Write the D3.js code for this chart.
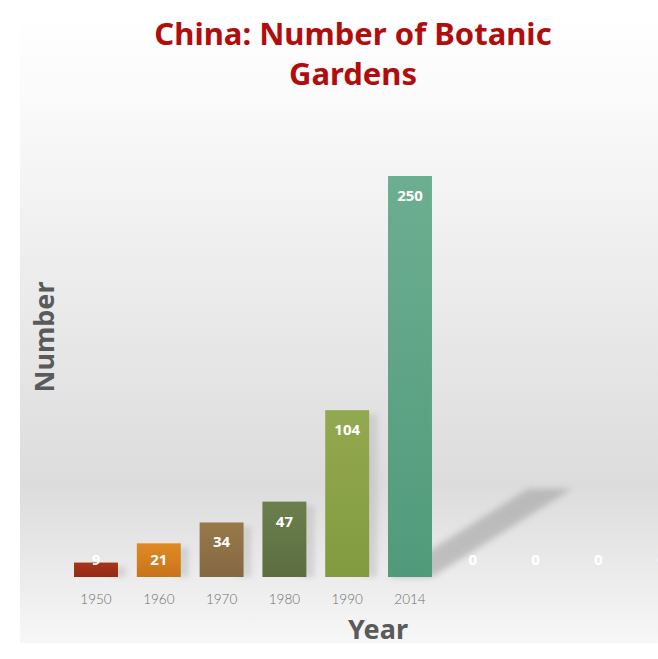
<!DOCTYPE html>
<html><head><meta charset="utf-8">
<script src="https://cdn.jsdelivr.net/npm/d3@7"></script>
<style>html,body{margin:0;padding:0;background:#fff;overflow:hidden}</style>
</head><body>
<svg id="c" width="658" height="659"></svg>
<script>
const categories = ["1950","1960","1970","1980","1990","2014","c7","c8","c9","c10"];
const tickLabels = ["1950","1960","1970","1980","1990","2014","","","",""];
const values = [9,21,34,47,104,250,0,0,0,0];
const barColors = [
  ["#a8341c","#932a12"],["#e08a24","#c9731a"],["#97794a","#846841"],
  ["#6b7f4d","#5c6e40"],["#93a94f","#819a40"],["#6caf90","#509a7a"],
  ["#999","#999"],["#999","#999"],["#999","#999"],["#999","#999"]];

const svg = d3.select("#c");
const defs = svg.append("defs");
const bg = defs.append("linearGradient").attr("id","bg").attr("x1",0).attr("y1",0).attr("x2",0).attr("y2",1);
bg.append("stop").attr("offset","0").attr("stop-color","#ffffff");
bg.append("stop").attr("offset","0.12").attr("stop-color","#fbfbfb");
bg.append("stop").attr("offset","0.75").attr("stop-color","#dcdcdc");
bg.append("stop").attr("offset","1").attr("stop-color","#f7f7f7");
svg.append("rect").attr("x",20).attr("y",13).attr("width",640).attr("height",630).attr("fill","url(#bg)");

const blur = defs.append("filter").attr("id","blur").attr("x","-20%").attr("y","-20%").attr("width","140%").attr("height","140%");
blur.append("feGaussianBlur").attr("stdDeviation",3);
const blur2 = defs.append("filter").attr("id","blur2").attr("x","-50%").attr("y","-50%").attr("width","200%").attr("height","200%");
blur2.append("feGaussianBlur").attr("stdDeviation",2.5);

barColors.forEach((c,i)=>{
  const g = defs.append("linearGradient").attr("id","g"+i).attr("x1",0).attr("y1",0).attr("x2",0).attr("y2",1);
  g.append("stop").attr("offset","0").attr("stop-color",c[0]);
  g.append("stop").attr("offset","1").attr("stop-color",c[1]);
});

const x = d3.scaleBand().domain(categories).range([64.6, 692.6]).paddingInner(0.3).paddingOuter(0.15);
const y = d3.scaleLinear().domain([0,250]).range([577,176]);

// title
const title = svg.append("text").attr("text-anchor","middle").attr("fill","#b20d0d")
  .attr("font-family","'Noto Sans', 'DejaVu Sans', sans-serif").attr("font-weight","bold").attr("font-size",31);
title.append("tspan").attr("x",353).attr("y",45).text("China: Number of Botanic");
title.append("tspan").attr("x",353).attr("y",85).text("Gardens");

// shadow for tallest bar
const last = categories[5];
const bx = x(last), bw = x.bandwidth(), by = y(values[5]);
const dx = 140, dy = (y(0)-by)*0.22;
svg.append("polygon")
  .attr("points",[[bx,y(0)],[bx+bw,y(0)],[bx+bw+dx,y(0)-dy],[bx+dx,y(0)-dy]].map(p=>p.join(",")).join(" "))
  .attr("fill","#9c9c9c").attr("opacity",0.55).attr("filter","url(#blur)");

// small shadows for other bars
svg.append("g").selectAll("rect").data(values.slice(0,5)).join("rect")
  .attr("x",(d,i)=>x(categories[i])+x.bandwidth()-6)
  .attr("y",d=>y(d)+4).attr("width",14).attr("height",d=>y(0)-y(d)-4)
  .attr("fill","#aaa").attr("opacity",0.35).attr("filter","url(#blur2)");

// bars
svg.append("g").selectAll("rect").data(values).join("rect")
  .attr("x",(d,i)=>x(categories[i])).attr("y",d=>y(d))
  .attr("width",x.bandwidth()).attr("height",d=>y(0)-y(d))
  .attr("fill",(d,i)=>`url(#g${i})`);

// value labels
svg.append("g").selectAll("text").data(values).join("text")
  .attr("x",(d,i)=>x(categories[i])+x.bandwidth()/2)
  .attr("y",d=>Math.min(y(d)+20, y(0)-17)+5)
  .attr("text-anchor","middle").attr("fill","#ffffff")
  .attr("font-family","'Open Sans', 'Noto Sans', sans-serif").attr("font-weight","bold").attr("font-size",15)
  .text(d=>d);

// x axis
const xAxis = d3.axisBottom(x).tickSize(0).tickFormat((d,i)=>tickLabels[i]);
const ax = svg.append("g").attr("transform",`translate(0,${y(0)})`).call(xAxis);
ax.select(".domain").remove();
ax.selectAll("text").attr("dy",0).attr("y",27).attr("fill","#6e6e6e")
  .attr("font-family","'Lato', 'Open Sans', sans-serif").attr("font-size",13.5).attr("font-weight",300);

// axis titles
svg.append("text").attr("x",378).attr("y",639).attr("text-anchor","middle").attr("fill","#5a5a5a")
  .attr("font-family","'Noto Sans', 'DejaVu Sans', sans-serif").attr("font-weight","bold").attr("font-size",27).text("Year");
svg.append("text").attr("transform","translate(54,337) rotate(-90)").attr("text-anchor","middle").attr("fill","#5a5a5a")
  .attr("font-family","'Noto Sans', 'DejaVu Sans', sans-serif").attr("font-weight","bold").attr("font-size",27).text("Number");
</script>
</body></html>
